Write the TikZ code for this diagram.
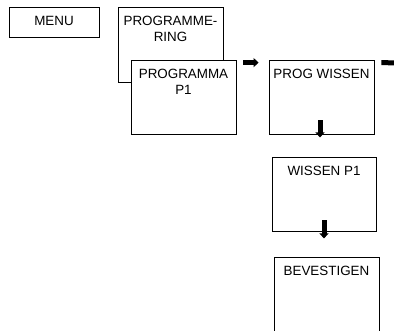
\documentclass[tikz,border=0pt]{standalone}
\usepackage{fontspec}
\setmainfont{Liberation Sans}
\usetikzlibrary{arrows.meta}

\tikzset{
	menubox/.style={rectangle, draw, fill=white, line width=0.8pt, inner sep=0pt, minimum width=#1},
	menutext/.style={anchor=north, align=center, inner sep=9pt, font=\fontsize{13.4}{16}\selectfont},
	blockarrow/.style={line width=5pt, -{Triangle[length=5pt,width=9pt]}}
}

\begin{document}
\begin{tikzpicture}[x=1pt, y=-1pt]
		
		\clip (0,0) rectangle (394,330);
		\useasboundingbox (0,0) rectangle (394,330);
		
		% Node
		
		\node[menubox=90pt, minimum height=30pt, label={[menutext]north:MENU}]
		(menu) at (54,22) {};
		
		\node[menubox=105pt, minimum height=75pt, label={[menutext]north:PROGRAMME-\\RING}]
		(prog) at (170.5,44.5) {};
		\node[menubox=105pt, minimum height=74pt, label={[menutext]north:PROGRAMMA\\P1}]
		(progP1) at (183.5,97) {};
		
		\node[menubox=105pt, minimum height=74pt, label={[menutext]north:PROG WISSEN}]
		(wissen) at (321.5,97) {};
		\node[menubox=104pt, minimum height=74pt, label={[menutext]north:WISSEN P1}]
		(wissenP1) at (324,194) {};
		\node[menubox=105pt, minimum height=74pt, label={[menutext]north:BEVESTIGEN}]
		(bevestigen) at (326.5,294) {};
		
		% Exit node
		
		\coordinate (Ewissen) at (400,63);
		
		% EDGE
		
		\draw[blockarrow] ([xshift=7pt,yshift=-3pt]progP1.north east) -- ([xshift=-10pt,yshift=-3pt]wissen.north west);
		\draw[blockarrow] ([xshift=7pt,yshift=-3pt]wissen.north east) -- (Ewissen);
		\draw[blockarrow] ([xshift=-1.5pt,yshift=14pt]wissen.south) -- ([xshift=-1.5pt,yshift=-3pt]wissen.south);
		\draw[blockarrow] ([yshift=11pt]wissenP1.south) -- ([yshift=-7pt]wissenP1.south);
		
	\end{tikzpicture}
\end{document}
